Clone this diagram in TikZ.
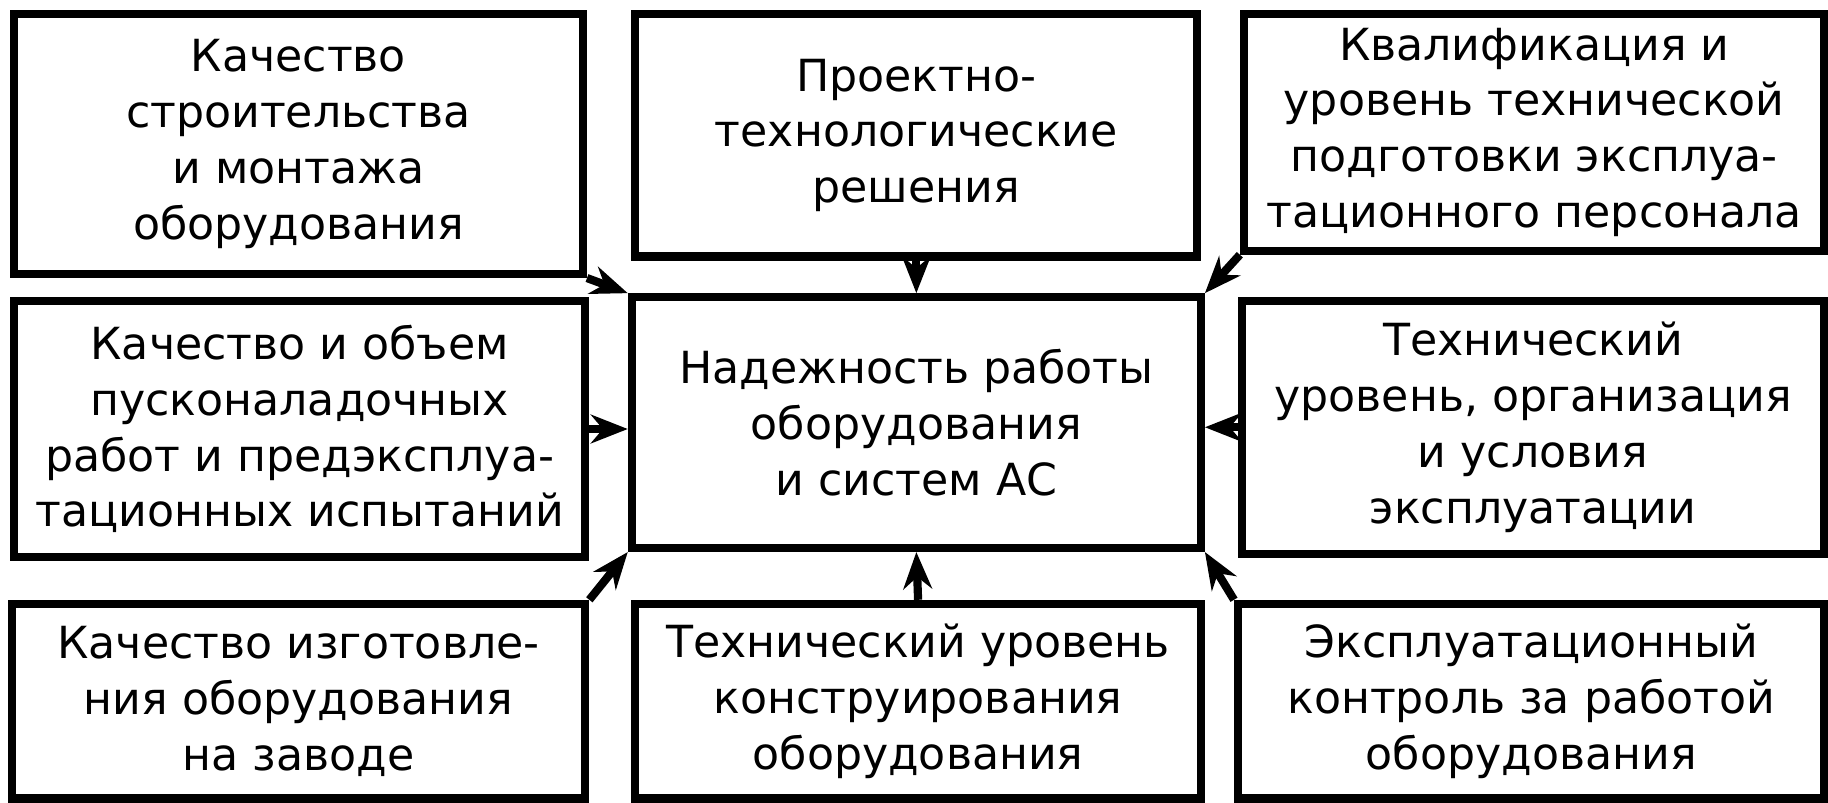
\documentclass[tikz,border=0pt]{standalone}
\usepackage{fontspec}
\setmainfont{DejaVu Sans}
\usetikzlibrary{arrows.meta}
\begin{document}
\begin{tikzpicture}[x=1cm,y=1cm,
  box/.style={draw,line width=2pt,align=center,font=\fontsize{10.8}{13.6}\selectfont,inner sep=0pt},
  arr/.style={line width=2pt,-{Stealth[length=9pt,width=7pt]}}]
\useasboundingbox (0,0) rectangle (15.68,-6.88);
\fill[white] (0,0) rectangle (15.68,-6.88);
\newcommand{\bx}[6]{\node[box,minimum width=#4cm-#2cm,minimum height=#3cm-#5cm] (#1) at ({(#2+#4)/2},{(#3+#5)/2}) {#6};}
\bx{tl}{0.12}{-0.12}{5.00}{-2.35}{Качество\\строительства\\и монтажа\\оборудования}
\bx{tm}{5.45}{-0.12}{10.27}{-2.20}{Проектно-\\технологические\\решения}
\bx{tr}{10.67}{-0.12}{15.65}{-2.15}{Квалификация и\\уровень технической\\подготовки эксплуа-\\тационного персонала}
\bx{ml}{0.12}{-2.58}{5.02}{-4.78}{Качество и объем\\пусконаладочных\\работ и предэксплуа-\\тационных испытаний}
\bx{c}{5.42}{-2.55}{10.30}{-4.70}{Надежность работы\\оборудования\\и систем АС}
\bx{mr}{10.65}{-2.58}{15.65}{-4.75}{Технический\\уровень, организация\\и условия\\эксплуатации}
\bx{bl}{0.10}{-5.18}{5.02}{-6.85}{Качество изготовле-\\ния оборудования\\на заводе}
\bx{bm}{5.45}{-5.18}{10.30}{-6.85}{Технический уровень\\конструирования\\оборудования}
\bx{br}{10.62}{-5.18}{15.65}{-6.85}{Эксплуатационный\\контроль за работой\\оборудования}
\draw[arr] (tl.south east) -- (c.north west);
\draw[arr] (tm.south) -- (c.north);
\draw[arr] (tr.south west) -- (c.north east);
\draw[arr] (ml.east) -- (c.west|-ml.east);
\draw[arr] (mr.west) -- (c.east|-mr.west);
\draw[arr] (bl.north east) -- (c.south west);
\draw[arr] (bm.north) -- (c.south);
\draw[arr] (br.north west) -- (c.south east);
\end{tikzpicture}
\end{document}
